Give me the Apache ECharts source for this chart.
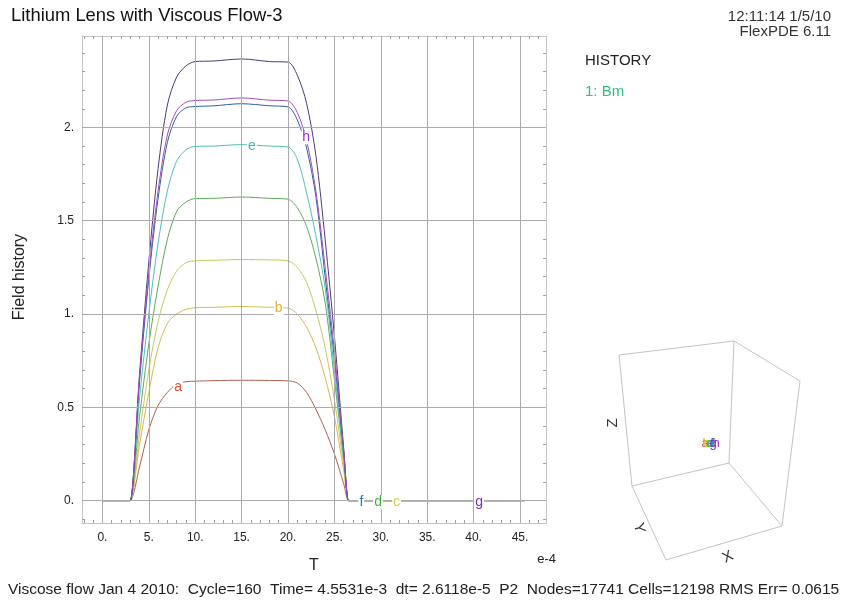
<!DOCTYPE html>
<html><head><meta charset="utf-8">
<script src="https://cdn.jsdelivr.net/npm/echarts@6/dist/echarts.min.js"></script>
<style>html,body{margin:0;padding:0;background:#fff}#c{width:849px;height:605px}</style>
</head><body><div id="c"></div>
<script>
// ---- data ----
const T = [0, 2.9, 3, 4, 5, 6, 7, 8, 9, 10, 12, 15, 18, 20, 21, 22, 23, 24, 25, 26, 26.5, 26.6, 45.5];
const seriesA = [0,0,0, 0.18,0.38,0.51,0.58,0.625,0.637,0.640, 0.643,0.645,0.644,0.642, 0.63,0.58,0.49,0.38,0.25,0.09, 0,0,0];
const seriesB = [0,0,0, 0.30,0.58,0.82,0.95,1.00,1.025,1.034, 1.036,1.040,1.036,1.032, 1.00,0.93,0.82,0.66,0.45,0.16, 0,0,0];
const seriesC = [0,0,0, 0.36,0.70,0.96,1.13,1.23,1.275,1.285, 1.288,1.292,1.290,1.285, 1.25,1.17,1.02,0.82,0.54,0.19, 0,0,0];
const seriesD = [0,0,0, 0.45,0.84,1.15,1.40,1.55,1.60,1.619, 1.620,1.627,1.620,1.615, 1.57,1.47,1.30,1.06,0.65,0.22, 0,0,0];
const seriesE = [0,0,0, 0.55,1.00,1.38,1.66,1.82,1.88,1.898, 1.900,1.908,1.900,1.895, 1.83,1.65,1.42,1.14,0.70,0.24, 0,0,0];
const seriesF = [0,0,0, 0.64,1.19,1.62,1.92,2.06,2.105,2.112, 2.116,2.127,2.116,2.110, 2.04,1.89,1.63,1.20,0.76,0.26, 0,0,0];
const seriesG = [0,0,0, 0.68,1.28,1.78,2.12,2.27,2.33,2.353, 2.356,2.367,2.353,2.350, 2.28,2.13,1.85,1.40,0.88,0.28, 0,0,0];
const seriesH = [0,0,0, 0.66,1.22,1.66,1.96,2.09,2.135,2.144, 2.147,2.158,2.146,2.142, 2.08,1.93,1.66,1.25,0.80,0.27, 0,0,0];
const seriesNames = ['a','b','c','d','e','f','g','h'];
// where each curve's letter sits (T, value)
const labelAt = {a:[8.16,0.61], b:[19.0,1.03], c:[31.7,-0.01], d:[29.7,-0.01], e:[16.1,1.90], f:[27.9,-0.01], g:[40.6,-0.01], h:[21.95,1.947]};
const xTickValues = [0,5,10,15,20,25,30,35,40,45];
const xTickLabels = ['0.','5.','10.','15.','20.','25.','30.','35.','40.','45.'];
const yTickValues = [0,0.5,1,1.5,2];
const yTickLabels = ['0.','0.5','1.','1.5','2.'];
const xMinor = []; for (let i=-2;i<=47;i++) xMinor.push(i);
const yMinor = []; for (let i=-1;i<=24;i++) yMinor.push(Math.round(i)/10);

// ---- styles ----
const FONT = '"Liberation Sans", Arial, sans-serif';
const lineColors  = ['#b0604c','#d8b850','#c8c860','#60a860','#50c0b8','#3060a0','#503880','#a050b8'];
const labelColors = ['#e0502a','#e0b030','#d8d040','#40b040','#30c0b0','#2878d0','#7030b0','#a030c0'];
const values = [seriesA,seriesB,seriesC,seriesD,seriesE,seriesF,seriesG,seriesH];

const chart = echarts.init(document.getElementById('c'), null, {renderer:'canvas'});

const frameLine = {show:true, onZero:false, lineStyle:{color:'#c4c4c4', width:1}};
const tickStyle = (vals)=>({show:true, inside:true, length:3, customValues:vals, lineStyle:{color:'#a0a0a0', width:1}});

const series = [{
  type:'line', data:[], z:1, silent:true, animation:false,
  markLine:{silent:true, symbol:'none', animation:false, label:{show:false},
    lineStyle:{color:'#ababab', width:1, type:'solid'},
    emphasis:{disabled:true},
    data:[...xTickValues.map(v=>({xAxis:v})), ...yTickValues.map(v=>({yAxis:v}))]}
}];
seriesNames.forEach((n,k)=>{
  series.push({
    type:'line', name:n, data:T.map((t,i)=>[t, values[k][i]]),
    smooth:0.3, symbol:'none', silent:true, animation:false, z:3,
    lineStyle:{color:lineColors[k], width:1},
    markPoint:{symbol:'rect', symbolSize:1, silent:true, animation:false,
      itemStyle:{color:'rgba(0,0,0,0)'},
      label:{show:true, position:'inside', formatter:n, color:labelColors[k], fontSize:14, fontFamily:FONT,
             backgroundColor:'#fff', padding:[0,1]},
      data:[{coord:labelAt[n]}]}
  });
});

const txt = (text, x, y, opt={}) => ({type:'text', x:0, y:0,
  style:{text, x, y, fill:opt.fill||'#222', font:(opt.size||14)+'px '+FONT,
         textAlign:opt.align||'left', textVerticalAlign:'middle'}, silent:true});
const rtxt = (text, x, y, rot, size) => ({type:'text', x, y, rotation:rot, silent:true,
  style:{text, x:0, y:0, fill:'#333', font:size+'px '+FONT, textAlign:'center', textVerticalAlign:'middle'}});
const seg = (x1,y1,x2,y2)=>({type:'line', shape:{x1,y1,x2,y2}, style:{stroke:'#c4c4c4', lineWidth:1}, silent:true});

const P1=[619,355],P2=[734,341],P3=[800,381],P4=[782,526],P5=[666,560],P6=[632,486],P7=[729,463];
const graphics = [
  txt('Lithium Lens with Viscous Flow-3', 11, 15.5, {size:18.4, fill:'#111'}),
  txt('12:11:14 1/5/10', 831, 17, {size:15, align:'right', fill:'#333'}),
  txt('FlexPDE 6.11', 831, 31.5, {size:15, align:'right', fill:'#333'}),
  txt('HISTORY', 585, 61, {size:15, fill:'#222'}),
  txt('1: Bm', 585, 92, {size:15, fill:'#2fbf80'}),
  txt('T', 314, 566, {size:16, align:'center', fill:'#222'}),
  txt('e-4', 556, 559, {size:13, align:'right', fill:'#222'}),
  {type:'text', x:20, y:277, rotation:Math.PI/2, silent:true,
   style:{text:'Field history', x:0, y:0, fill:'#222', font:'16px '+FONT, textAlign:'center', textVerticalAlign:'middle'}},
  txt('Viscose flow Jan 4 2010:  Cycle=160  Time= 4.5531e-3  dt= 2.6118e-5  P2  Nodes=17741 Cells=12198 RMS Err= 0.0615', 8, 590, {size:15.5, fill:'#222'}),
  seg(...P1,...P2), seg(...P1,...P6), seg(...P2,...P7), seg(...P2,...P3), seg(...P3,...P4),
  seg(...P4,...P5), seg(...P5,...P6), seg(...P6,...P7), seg(...P7,...P4),
  rtxt('Z', 613, 423, Math.PI/2, 15),
  rtxt('Y', 639, 528, -1.35, 15),
  rtxt('X', 728, 557, 0.45, 15)
];
const clusterX = [705,706,707,710,711,712,713,716];
seriesNames.forEach((n,k)=>graphics.push(txt(n, clusterX[k], 443, {size:13, align:'center', fill:labelColors[k]})));

chart.setOption({
  animation:false,
  backgroundColor:'#fff',
  grid:{left:82, top:36, width:464, height:487, outerBoundsMode:'none', containLabel:false},
  xAxis:[
    {type:'value', min:-2.2, max:47.8, position:'bottom', axisLine:frameLine, axisTick:tickStyle(xMinor),
     axisLabel:{customValues:xTickValues, formatter:v=>xTickLabels[xTickValues.indexOf(v)], margin:9, color:'#222', fontSize:12, fontFamily:FONT},
     splitLine:{show:false}, minorTick:{show:false}},
    {type:'value', min:-2.2, max:47.8, position:'top', axisLine:frameLine, axisTick:tickStyle(xMinor),
     axisLabel:{show:false}, splitLine:{show:false}}
  ],
  yAxis:[
    {type:'value', min:-0.12, max:2.49, position:'left', axisLine:frameLine, axisTick:tickStyle(yMinor),
     axisLabel:{customValues:yTickValues, formatter:v=>yTickLabels[yTickValues.indexOf(v)], margin:8, color:'#222', fontSize:12, fontFamily:FONT},
     splitLine:{show:false}},
    {type:'value', min:-0.12, max:2.49, position:'right', axisLine:frameLine, axisTick:tickStyle(yMinor),
     axisLabel:{show:false}, splitLine:{show:false}}
  ],
  series,
  graphic:graphics
});
</script></body></html>
